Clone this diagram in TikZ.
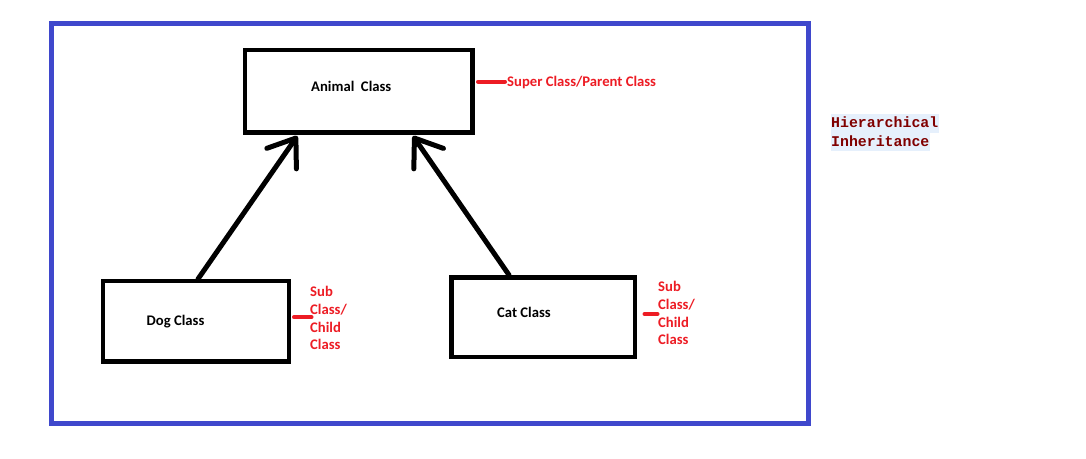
\documentclass[tikz,border=0pt]{standalone}
\usepackage{fontspec}
\setmainfont{Carlito}
\newfontfamily\monob{Liberation Mono}
\usetikzlibrary{arrows.meta}
\definecolor{frameblue}{RGB}{63,72,204}
\definecolor{notered}{RGB}{237,28,36}
\definecolor{maroonish}{RGB}{128,0,0}
\definecolor{hlblue}{RGB}{230,240,252}
\tikzset{
  classbox/.style={draw=black, line width=4.5pt, inner sep=0pt, minimum width=#1},
  classtext/.style={anchor=base west, inner sep=0pt, font=\fontsize{14.67}{17.4}\selectfont\bfseries, text=black},
  notetext/.style={inner sep=0pt, font=\fontsize{14.67}{17.6}\selectfont\bfseries, text=notered},
  notemark/.style={draw=notered, line width=4pt, line cap=round},
  inh/.style={draw=black, line width=5pt, line cap=round, -{Straight Barb[length=25pt,width=36pt,round]}},
  hiertext/.style={anchor=base west, inner xsep=0.5pt, inner ysep=0pt, fill=hlblue, text=maroonish,
     font=\fontsize{14.87}{19}\selectfont\monob\bfseries, text height=14pt},
}
\begin{document}
\begin{tikzpicture}[x=1pt,y=-1pt]
\useasboundingbox (0,0) rectangle (1086,458);
\fill[white] (0,0) rectangle (1086,458);
% frame
\node[draw=frameblue, line width=5pt, minimum width=757pt, minimum height=400pt, inner sep=0pt] (frame) at (430,223.4) {};
% boxes
\node[classbox=227.5pt, minimum height=82.5pt] (animal) at (358.8,91.2) {};
\node[classbox=186pt, minimum height=80.5pt] (dog) at (196,321.2) {};
\node[classbox=183.5pt, minimum height=79.5pt] (cat) at (543.2,317.2) {};
% box texts
\node[classtext] (animaltext) at (311,91) {Animal\ \ Class};
\node[classtext] (dogtext) at (146.5,325) {Dog Class};
\node[classtext] (cattext) at (497,317.3) {Cat Class};
% arrows
\coordinate (dogstart) at (198,279);
\coordinate (animaltipL) at (297.3,136);
\coordinate (catstart) at (509,275);
\coordinate (animaltipR) at (413,136);
\draw[inh] (dogstart) -- (animaltipL);
\draw[inh] (catstart) -- (animaltipR);
% notes
\node[notetext, anchor=base west] (supernote) at (507,86) {Super Class/Parent Class};
\coordinate (superA) at (478,81.7);
\coordinate (superB) at (505,81.7);
\draw[notemark] (superA) -- (superB);
\node[notetext, anchor=north west, align=left] (dognote) at (310,286.5) {Sub\\Class/\\Child\\Class};
\coordinate (dogA) at (294,317.3);
\coordinate (dogB) at (311.5,317.3);
\draw[notemark] (dogA) -- (dogB);
\node[notetext, anchor=north west, align=left] (catnote) at (658,281.5) {Sub\\Class/\\Child\\Class};
\coordinate (catA) at (644.5,314);
\coordinate (catB) at (657.5,314);
\draw[notemark] (catA) -- (catB);
% title
\node[hiertext, text depth=5pt] (hier1) at (830.5,127.7) {Hierarchical};
\node[hiertext, text depth=4.3pt] (hier2) at (830.5,146.7) {Inheritance};
\end{tikzpicture}
\end{document}
